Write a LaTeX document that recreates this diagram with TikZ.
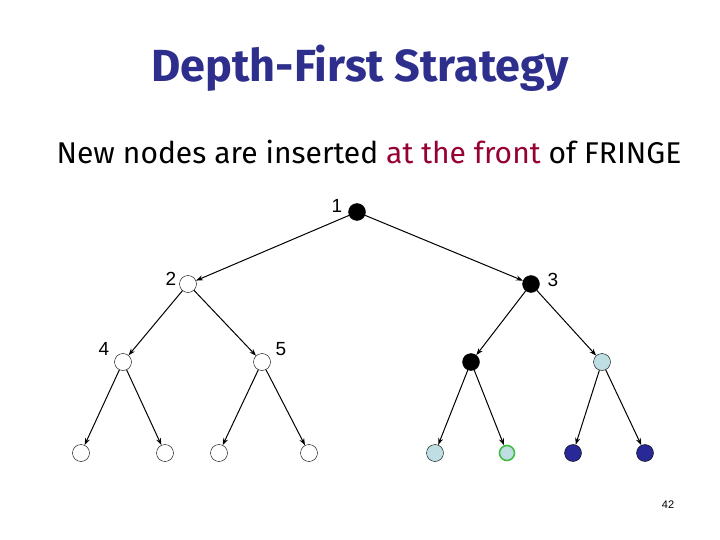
\documentclass[tikz,border=0pt]{standalone}
\usepackage{fontspec}
\setmainfont{Fira Sans}
\newfontfamily\arialfont{Liberation Sans}
\usetikzlibrary{arrows.meta}

\definecolor{titleblue}{RGB}{46,46,140}
\definecolor{frontred}{RGB}{150,0,50}
\definecolor{paleblue}{RGB}{190,222,228}
\definecolor{deepblue}{RGB}{40,40,150}
\definecolor{ringgreen}{RGB}{70,190,70}

\begin{document}
\begin{tikzpicture}[x=1pt, y=-1pt,
  every node/.style={circle, draw, fill=white, minimum size=17pt, inner sep=0pt},
  done/.style={fill=black},
  inq/.style={fill=paleblue},
  nxt/.style={fill=paleblue, draw=ringgreen, line width=1.6pt, minimum size=15pt},
  newq/.style={fill=deepblue},
  lbl/.style={draw=none, fill=none, rectangle, minimum size=0pt, font=\arialfont\fontsize{19}{21}\selectfont},
  txt/.style={draw=none, fill=none, rectangle, minimum size=0pt, inner sep=0pt},
  edge/.style={-{Stealth[length=7pt,width=5pt]}, line width=1pt}]
\useasboundingbox (0,0) rectangle (720,540);

\node[txt, text=titleblue, font=\fontsize{45}{50}\selectfont\bfseries] (title) at (360,68) {Depth-First Strategy};
\node[txt, font=\fontsize{30}{34}\selectfont] (sub) at (369,152) {New nodes are inserted \textcolor{frontred}{at the front} of FRINGE};

\node[done] (1) at (357,212) {};
\node (2) at (188,284) {};
\node[done] (3) at (531,284) {};
\node (4) at (123,362) {};
\node (5) at (262,362) {};
\node[done] (6) at (471,362) {};
\node[inq] (7) at (602,362) {};
\node (8) at (81,453) {};
\node (9) at (165,453) {};
\node (10) at (219,453) {};
\node (11) at (309,453) {};
\node[inq] (12) at (435,453) {};
\node[nxt] (13) at (507,453) {};
\node[newq] (14) at (573,453) {};
\node[newq] (15) at (645,453) {};

\node[lbl] (l1) at (337,206) {1};
\node[lbl] (l2) at (171,279) {2};
\node[lbl] (l3) at (553,280) {3};
\node[lbl] (l4) at (104,349) {4};
\node[lbl] (l5) at (281,349) {5};

\draw[edge] (1) -- (2);
\draw[edge] (1) -- (3);
\draw[edge] (2) -- (4);
\draw[edge] (2) -- (5);
\draw[edge] (3) -- (6);
\draw[edge] (3) -- (7);
\draw[edge] (4) -- (8);
\draw[edge] (4) -- (9);
\draw[edge] (5) -- (10);
\draw[edge] (5) -- (11);
\draw[edge] (6) -- (12);
\draw[edge] (6) -- (13);
\draw[edge] (7) -- (14);
\draw[edge] (7) -- (15);

\node[txt, font=\arialfont\fontsize{11}{12}\selectfont] (page) at (668,505) {42};
\end{tikzpicture}
\end{document}
